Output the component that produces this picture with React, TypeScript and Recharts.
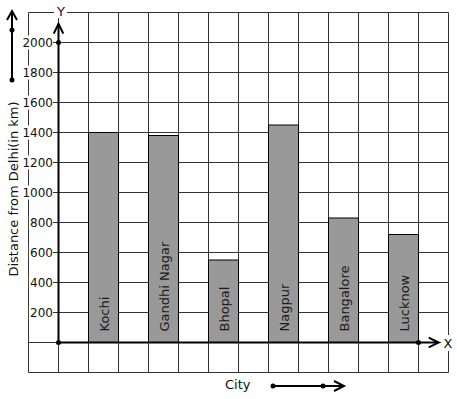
import React from 'react'
import { BarChart, Bar, XAxis, YAxis, CartesianGrid, ReferenceLine, ReferenceDot } from 'recharts'

const cities = ['Kochi', 'Gandhi Nagar', 'Bhopal', 'Nagpur', 'Bangalore', 'Lucknow']
const distances = [1400, 1380, 550, 1450, 830, 720]
const yLabels = [200, 400, 600, 800, 1000, 1200, 1400, 1600, 1800, 2000]
const yGrid = [-200, 0, ...yLabels, 2200]
const xGrid = [-1, 0, 1, 2, 3, 4, 5, 6, 7, 8, 9, 10, 11, 12, 13]
const X_DOMAIN = [-1, 13]

const FONT = 'DejaVu Sans, sans-serif'
const INK = '#111'
const GRID = '#333'

// each city sits in every other grid column, starting one column after the y axis
const data = cities.map((city, i) => ({ city, slot: 1.5 + 2 * i, distance: distances[i] }))

const YTick = (props: any) => {
  const { y, payload } = props
  if (!yLabels.includes(payload.value)) return <g />
  const label = String(payload.value)
  const w = label.length * 7.7
  return (
    <g>
      <rect x={53 - w - 1} y={y - 7} width={w + 1} height={14} fill='#fff' />
      <text x={53} y={y} textAnchor='end' dominantBaseline='central' fontSize={12} fontFamily={FONT} fill={INK}>
        {label}
      </text>
    </g>
  )
}

const CityBar = (props: any) => {
  const { x, y, width, height, payload } = props
  const cx = x + width / 2
  const bottom = y + height
  return (
    <g>
      <rect x={x} y={y} width={width} height={height} fill='#999999' stroke='#000' strokeWidth={1} />
      <text
        transform={`translate(${cx + 5.5},${bottom - 11}) rotate(-90)`}
        fontSize={13}
        fontFamily={FONT}
        fill='#1a1a1a'
      >
        {payload.city}
      </text>
    </g>
  )
}

const ArrowLine = (props: any) => {
  const { x1, y1, x2, y2 } = props
  const a = Math.atan2(y2 - y1, x2 - x1)
  const len = 11
  const spread = 0.45
  const p1 = [x2 - len * Math.cos(a - spread), y2 - len * Math.sin(a - spread)]
  const p2 = [x2 - len * Math.cos(a + spread), y2 - len * Math.sin(a + spread)]
  return (
    <g stroke='#000' strokeWidth={2} fill='none'>
      <line x1={x1} y1={y1} x2={x2} y2={y2} />
      <polyline points={`${p1[0]},${p1[1]} ${x2},${y2} ${p2[0]},${p2[1]}`} />
    </g>
  )
}

// one vertical grid line per x unit across the plot area
const verticalLines = ({ offset }: any) =>
  xGrid.map((v) => offset.left + ((v - X_DOMAIN[0]) / (X_DOMAIN[1] - X_DOMAIN[0])) * offset.width)

export default function App() {
  return (
    <div style={{ position: 'absolute', left: 0, top: 0, width: 457, height: 399, background: '#fff' }}>
      <BarChart
        width={457}
        height={399}
        data={data}
        margin={{ top: 12.5, right: 8.5, bottom: 25.5, left: 27.5 }}
      >
        <CartesianGrid stroke={GRID} strokeWidth={1} verticalCoordinatesGenerator={verticalLines} />
        <XAxis
          type='number'
          dataKey='slot'
          domain={X_DOMAIN}
          ticks={xGrid}
          interval={0}
          height={1}
          axisLine={false}
          tickLine={false}
          tick={false}
          allowDataOverflow
        />
        <YAxis
          type='number'
          domain={[-200, 2200]}
          ticks={yGrid}
          interval={0}
          width={1}
          axisLine={false}
          tickLine={false}
          tick={(p: any) => <YTick {...p} />}
          allowDataOverflow
        />
        <Bar dataKey='distance' barSize={30} shape={<CityBar />} isAnimationActive={false} />
        <ReferenceLine segment={[{ x: 0, y: 0 }, { x: 0, y: 2125 }]} shape={<ArrowLine />} ifOverflow='visible' />
        <ReferenceLine segment={[{ x: 0, y: 0 }, { x: 12.67, y: 0 }]} shape={<ArrowLine />} ifOverflow='visible' />
        <ReferenceDot x={0} y={0} r={2.5} fill='#000' stroke='none' />
        <ReferenceDot x={0} y={2000} r={2.5} fill='#000' stroke='none' />
        <ReferenceDot x={12} y={0} r={2.5} fill='#000' stroke='none' />
      </BarChart>
      <svg
        width={457}
        height={399}
        style={{ position: 'absolute', left: 0, top: 0, pointerEvents: 'none' }}
        fontFamily={FONT}
      >
        <rect x={54} y={2} width={13} height={16} fill='#fff' />
        <text x={61} y={11} textAnchor='middle' dominantBaseline='central' fontSize={13} fill={INK}>
          Y
        </text>
        <rect x={441} y={335} width={14} height={16} fill='#fff' />
        <text x={448} y={343} textAnchor='middle' dominantBaseline='central' fontSize={13} fill={INK}>
          X
        </text>
        <text transform='translate(18,189) rotate(-90)' textAnchor='middle' fontSize={13} fill={INK}>
          Distance from Delhi(in km)
        </text>
        <text x={225} y={389} fontSize={13} fill={INK}>
          City
        </text>
        <g stroke='#000' strokeWidth={2} fill='none'>
          <line x1={12} y1={80} x2={12} y2={11} />
          <polyline points='7,20 12,11 17,20' />
          <line x1={273} y1={386} x2={344} y2={386} />
          <polyline points='334,381 344,386 334,391' />
        </g>
        <g fill='#000'>
          <circle cx={12} cy={30} r={2.5} />
          <circle cx={12} cy={80} r={2.5} />
          <circle cx={273} cy={386} r={2.5} />
          <circle cx={323} cy={386} r={2.5} />
        </g>
      </svg>
    </div>
  )
}
